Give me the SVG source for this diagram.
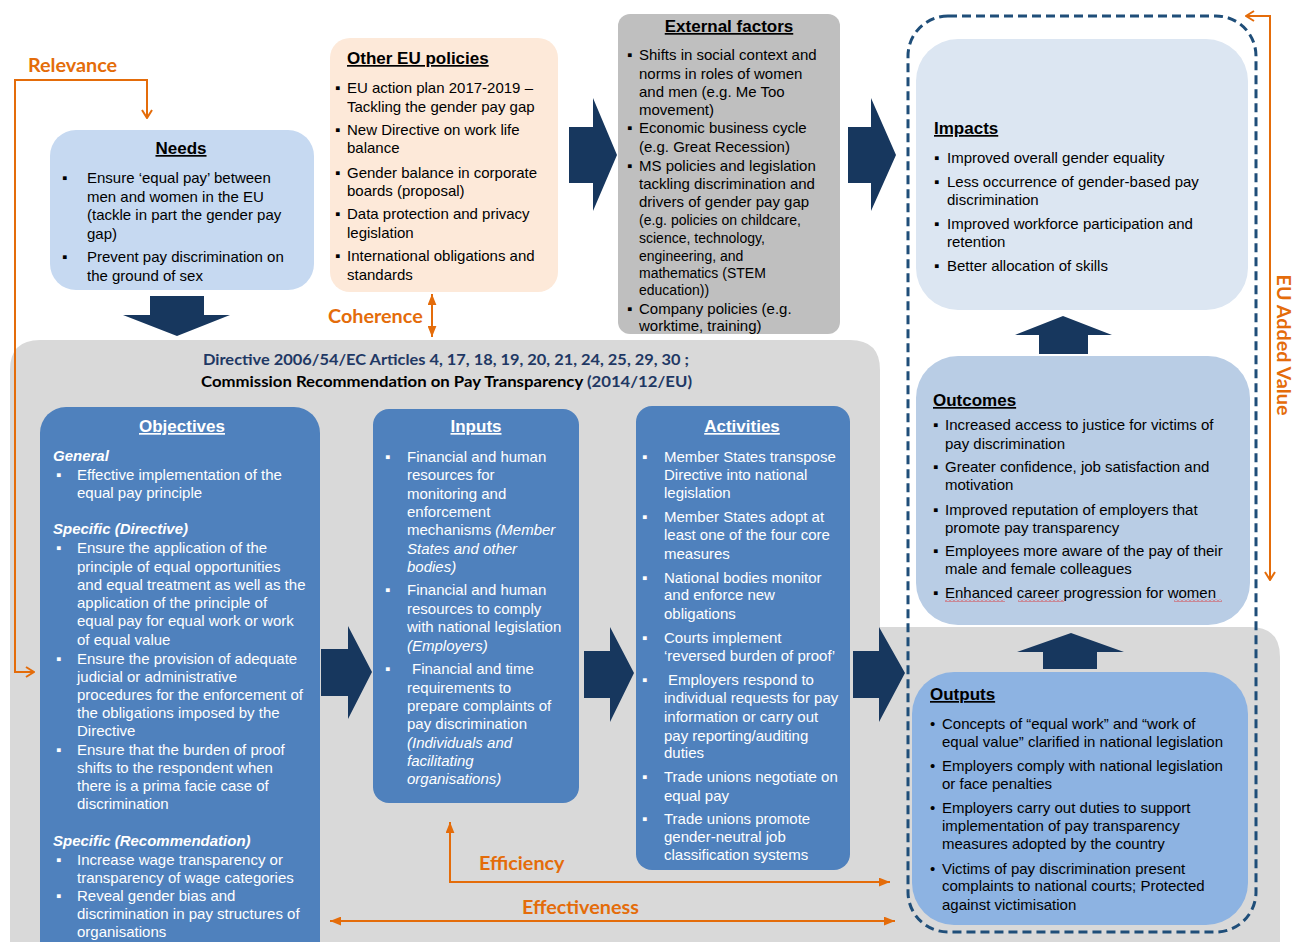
<svg xmlns="http://www.w3.org/2000/svg" width="1301" height="942" viewBox="0 0 1301 942">
<style>
text{font-family:"Liberation Sans",Arial,"DejaVu Sans",sans-serif;font-size:15px;fill:#000}
.w{fill:#fff}
.h{font-weight:bold;font-size:17px;text-decoration:underline}
.i{font-style:italic}
.bi{font-style:italic;font-weight:bold}
.s{font-size:14px}
.o{font-family:Lato,"Liberation Sans",sans-serif;font-weight:bold;font-size:19.8px;fill:#e46c0a}
.d{font-family:Lato,"Liberation Sans",sans-serif;font-weight:bold;font-size:15px}
.nv{fill:#17375e}
.ol{stroke:#e46c0a;stroke-width:2;fill:none}
</style>
<defs>
<marker id="chev" viewBox="0 0 10 12" refX="9" refY="6" markerWidth="10" markerHeight="12" markerUnits="userSpaceOnUse" orient="auto-start-reverse">
<path d="M1,1 L9,6 L1,11" fill="none" stroke="#e46c0a" stroke-width="2"/>
</marker>
<marker id="tri" viewBox="0 0 10 8" refX="10" refY="4" markerWidth="11" markerHeight="9" markerUnits="userSpaceOnUse" orient="auto-start-reverse">
<path d="M0,0 L10,4 L0,8 z" fill="#e46c0a"/>
</marker>
<pattern id="wavy" width="4" height="3" patternUnits="userSpaceOnUse">
<path d="M0,2.5 L2,0.5 L4,2.5" stroke="#e02020" fill="none" stroke-width="0.8"/>
</pattern>
</defs>

<!-- grey background -->
<path id="bg" d="M10,370 Q10,340 40,340 H850 Q880,340 880,370 V627 H1250 Q1280,627 1280,657 V960 H10 Z" fill="#d9d9d9"/>

<!-- dashed frame -->
<rect id="frame" x="908" y="16" width="348" height="916" rx="40" fill="none" stroke="#1f4e79" stroke-width="3" stroke-dasharray="9 5"/>

<g id="needs">
<rect x="50" y="130" width="264" height="160" rx="26" fill="#c6d9f1"/>
<text x="181" y="154" class="h" text-anchor="middle">Needs</text>
<text x="62" y="183">▪</text><text x="87" y="183">Ensure ‘equal pay’ between</text>
<text x="87" y="202">men and women in the EU</text>
<text x="87" y="220">(tackle in part the gender pay</text>
<text x="87" y="239">gap)</text>
<text x="62" y="262">▪</text><text x="87" y="262">Prevent pay discrimination on</text>
<text x="87" y="281">the ground of sex</text>
</g>

<g id="other-eu">
<rect x="330" y="38" width="228" height="254" rx="20" fill="#fde9d9"/>
<text x="347" y="64" class="h">Other EU policies</text>
<text x="335" y="93">▪</text><text x="347" y="93">EU action plan 2017-2019 –</text>
<text x="347" y="112">Tackling the gender pay gap</text>
<text x="335" y="135">▪</text><text x="347" y="135">New Directive on work life</text>
<text x="347" y="153">balance</text>
<text x="335" y="178">▪</text><text x="347" y="178">Gender balance in corporate</text>
<text x="347" y="196">boards (proposal)</text>
<text x="335" y="219">▪</text><text x="347" y="219">Data protection and privacy</text>
<text x="347" y="238">legislation</text>
<text x="335" y="261">▪</text><text x="347" y="261">International obligations and</text>
<text x="347" y="280">standards</text>
</g>

<g id="external">
<rect x="618" y="14" width="222" height="320" rx="12" fill="#bfbfbf"/>
<text x="729" y="32" class="h" text-anchor="middle">External factors</text>
<text x="627" y="60">▪</text><text x="639" y="60">Shifts in social context and</text>
<text x="639" y="79">norms in roles of women</text>
<text x="639" y="97">and men (e.g. Me Too</text>
<text x="639" y="115">movement)</text>
<text x="627" y="133">▪</text><text x="639" y="133">Economic business cycle</text>
<text x="639" y="152">(e.g. Great Recession)</text>
<text x="627" y="171">▪</text><text x="639" y="171">MS policies and legislation</text>
<text x="639" y="189">tackling discrimination and</text>
<text x="639" y="207">drivers of gender pay gap</text>
<text x="639" y="225" class="s">(e.g. policies on childcare,</text>
<text x="639" y="243" class="s">science, technology,</text>
<text x="639" y="261" class="s">engineering, and</text>
<text x="639" y="278" class="s">mathematics (STEM</text>
<text x="639" y="295" class="s">education))</text>
<text x="627" y="314">▪</text><text x="639" y="314">Company policies (e.g.</text>
<text x="639" y="331">worktime, training)</text>
</g>

<g id="directive">
<text x="446" y="365" class="d" text-anchor="middle" style="fill:#1f3864" textLength="486" lengthAdjust="spacingAndGlyphs">Directive 2006/54/EC Articles 4, 17, 18, 19, 20, 21, 24, 25, 29, 30 ;</text>
<text x="201" y="387" class="d" textLength="491" lengthAdjust="spacingAndGlyphs">Commission Recommendation on Pay Transparency <tspan style="fill:#1f3864">(2014/12/EU)</tspan></text>
</g>

<g id="objectives">
<rect x="40" y="407" width="280" height="560" rx="26" fill="#4f81bd"/>
<text x="182" y="432" class="h w" text-anchor="middle">Objectives</text>
<text x="53" y="461" class="bi w">General</text>
<text x="56" y="480" class="w">▪</text><text x="77" y="480" class="w">Effective implementation of the</text>
<text x="77" y="498" class="w">equal pay principle</text>
<text x="53" y="534" class="bi w">Specific (Directive)</text>
<text x="56" y="553" class="w">▪</text><text x="77" y="553" class="w">Ensure the application of the</text>
<text x="77" y="572" class="w">principle of equal opportunities</text>
<text x="77" y="590" class="w">and equal treatment as well as the</text>
<text x="77" y="608" class="w">application of the principle of</text>
<text x="77" y="626" class="w">equal pay for equal work or work</text>
<text x="77" y="645" class="w">of equal value</text>
<text x="56" y="664" class="w">▪</text><text x="77" y="664" class="w">Ensure the provision of adequate</text>
<text x="77" y="682" class="w">judicial or administrative</text>
<text x="77" y="700" class="w">procedures for the enforcement of</text>
<text x="77" y="718" class="w">the obligations imposed by the</text>
<text x="77" y="736" class="w">Directive</text>
<text x="56" y="755" class="w">▪</text><text x="77" y="755" class="w">Ensure that the burden of proof</text>
<text x="77" y="773" class="w">shifts to the respondent when</text>
<text x="77" y="791" class="w">there is a prima facie case of</text>
<text x="77" y="809" class="w">discrimination</text>
<text x="53" y="846" class="bi w">Specific (Recommendation)</text>
<text x="56" y="865" class="w">▪</text><text x="77" y="865" class="w">Increase wage transparency or</text>
<text x="77" y="883" class="w">transparency of wage categories</text>
<text x="56" y="901" class="w">▪</text><text x="77" y="901" class="w">Reveal gender bias and</text>
<text x="77" y="919" class="w">discrimination in pay structures of</text>
<text x="77" y="937" class="w">organisations</text>
</g>

<g id="inputs">
<rect x="373" y="409" width="206" height="394" rx="16" fill="#4f81bd"/>
<text x="476" y="432" class="h w" text-anchor="middle">Inputs</text>
<text x="385" y="462" class="w">▪</text><text x="407" y="462" class="w">Financial and human</text>
<text x="407" y="480" class="w">resources for</text>
<text x="407" y="499" class="w">monitoring and</text>
<text x="407" y="517" class="w">enforcement</text>
<text x="407" y="535" class="w">mechanisms <tspan class="i">(Member</tspan></text>
<text x="407" y="554" class="w i">States and other</text>
<text x="407" y="572" class="w i">bodies)</text>
<text x="385" y="595" class="w">▪</text><text x="407" y="595" class="w">Financial and human</text>
<text x="407" y="614" class="w">resources to comply</text>
<text x="407" y="632" class="w">with national legislation</text>
<text x="407" y="651" class="w i">(Employers)</text>
<text x="385" y="674" class="w">▪</text><text x="412" y="674" class="w">Financial and time</text>
<text x="407" y="693" class="w">requirements to</text>
<text x="407" y="711" class="w">prepare complaints of</text>
<text x="407" y="729" class="w">pay discrimination</text>
<text x="407" y="748" class="w i">(Individuals and</text>
<text x="407" y="766" class="w i">facilitating</text>
<text x="407" y="784" class="w i">organisations)</text>
</g>

<g id="activities">
<rect x="636" y="406" width="214" height="464" rx="16" fill="#4f81bd"/>
<text x="742" y="432" class="h w" text-anchor="middle">Activities</text>
<text x="642" y="462" class="w">▪</text><text x="664" y="462" class="w">Member States transpose</text>
<text x="664" y="480" class="w">Directive into national</text>
<text x="664" y="498" class="w">legislation</text>
<text x="642" y="522" class="w">▪</text><text x="664" y="522" class="w">Member States adopt at</text>
<text x="664" y="540" class="w">least one of the four core</text>
<text x="664" y="559" class="w">measures</text>
<text x="642" y="583" class="w">▪</text><text x="664" y="583" class="w">National bodies monitor</text>
<text x="664" y="600" class="w">and enforce new</text>
<text x="664" y="619" class="w">obligations</text>
<text x="642" y="643" class="w">▪</text><text x="664" y="643" class="w">Courts implement</text>
<text x="664" y="661" class="w">‘reversed burden of proof’</text>
<text x="642" y="685" class="w">▪</text><text x="668" y="685" class="w">Employers respond to</text>
<text x="664" y="703" class="w">individual requests for pay</text>
<text x="664" y="722" class="w">information or carry out</text>
<text x="664" y="741" class="w">pay reporting/auditing</text>
<text x="664" y="758" class="w">duties</text>
<text x="642" y="782" class="w">▪</text><text x="664" y="782" class="w">Trade unions negotiate on</text>
<text x="664" y="801" class="w">equal pay</text>
<text x="642" y="824" class="w">▪</text><text x="664" y="824" class="w">Trade unions promote</text>
<text x="664" y="842" class="w">gender-neutral job</text>
<text x="664" y="860" class="w">classification systems</text>
</g>

<g id="impacts">
<rect x="916" y="39" width="332" height="271" rx="42" fill="#dce6f2"/>
<text x="934" y="134" class="h">Impacts</text>
<text x="934" y="163">▪</text><text x="947" y="163">Improved overall gender equality</text>
<text x="934" y="187">▪</text><text x="947" y="187">Less occurrence of gender-based pay</text>
<text x="947" y="205">discrimination</text>
<text x="934" y="229">▪</text><text x="947" y="229">Improved workforce participation and</text>
<text x="947" y="247">retention</text>
<text x="934" y="271">▪</text><text x="947" y="271">Better allocation of skills</text>
</g>

<g id="outcomes">
<rect x="916" y="356" width="334" height="269" rx="42" fill="#b9cde5"/>
<text x="933" y="406" class="h">Outcomes</text>
<text x="933" y="430">▪</text><text x="945" y="430">Increased access to justice for victims of</text>
<text x="945" y="449">pay discrimination</text>
<text x="933" y="472">▪</text><text x="945" y="472">Greater confidence, job satisfaction and</text>
<text x="945" y="490">motivation</text>
<text x="933" y="515">▪</text><text x="945" y="515">Improved reputation of employers that</text>
<text x="945" y="533">promote pay transparency</text>
<text x="933" y="556">▪</text><text x="945" y="556">Employees more aware of the pay of their</text>
<text x="945" y="574">male and female colleagues</text>
<text x="933" y="598">▪</text><text x="945" y="598">Enhanced career progression for women</text>
<rect x="945" y="599" width="60" height="3" fill="url(#wavy)"/>
<rect x="1018" y="599" width="46" height="3" fill="url(#wavy)"/>
<rect x="1174" y="599" width="48" height="3" fill="url(#wavy)"/>
</g>

<g id="outputs">
<rect x="912" y="672" width="336" height="253" rx="42" fill="#8db3e2"/>
<text x="930" y="700" class="h">Outputs</text>
<text x="930" y="729">•</text><text x="942" y="729">Concepts of “equal work” and “work of</text>
<text x="942" y="747">equal value” clarified in national legislation</text>
<text x="930" y="771">•</text><text x="942" y="771">Employers comply with national legislation</text>
<text x="942" y="789">or face penalties</text>
<text x="930" y="813">•</text><text x="942" y="813">Employers carry out duties to support</text>
<text x="942" y="831">implementation of pay transparency</text>
<text x="942" y="849">measures adopted by the country</text>
<text x="930" y="874">•</text><text x="942" y="874">Victims of pay discrimination present</text>
<text x="942" y="891">complaints to national courts; Protected</text>
<text x="942" y="910">against victimisation</text>
</g>

<g id="connectors">
<path class="nv" d="M569,127 H593 V98 L617,155 L593,211 V183 H569 Z"/>
<path class="nv" d="M848,127 H871 V98 L896,155 L871,211 V183 H848 Z"/>
<path class="nv" d="M150,296 H204 V315 H230 L177,336 L123,315 H150 Z"/>
<path class="nv" d="M321,649 H348 V626 L372,672 L348,719 V696 H321 Z"/>
<path class="nv" d="M584,651 H610 V627 L634,673 L610,722 V698 H584 Z"/>
<path class="nv" d="M853,651 H879 V627 L905,673 L879,722 V698 H853 Z"/>
<path class="nv" d="M1039,354 V335 H1015 L1063,316 L1112,335 H1088 V354 Z"/>
<path class="nv" d="M1043,669 V652 H1017 L1071,633 L1124,652 H1097 V669 Z"/>
<path class="ol" d="M34,672 H15 V80 H147 V118" marker-start="url(#chev)" marker-end="url(#chev)"/>
<path class="ol" d="M432,294 V337" marker-start="url(#tri)" marker-end="url(#tri)"/>
<path class="ol" d="M890,882 H450 V822" marker-start="url(#tri)" marker-end="url(#tri)"/>
<path class="ol" d="M330,921 H895" marker-start="url(#tri)" marker-end="url(#tri)"/>
<path class="ol" d="M1246,16 H1270 V580" marker-start="url(#chev)" marker-end="url(#chev)"/>
<text x="28" y="72" class="o">Relevance</text>
<text x="328" y="323" class="o">Coherence</text>
<text x="479" y="870" class="o">Efficiency</text>
<text x="522" y="914" class="o">Effectiveness</text>
<text class="o" text-anchor="middle" transform="translate(1277,345) rotate(90)">EU Added Value</text>
</g>
</svg>
